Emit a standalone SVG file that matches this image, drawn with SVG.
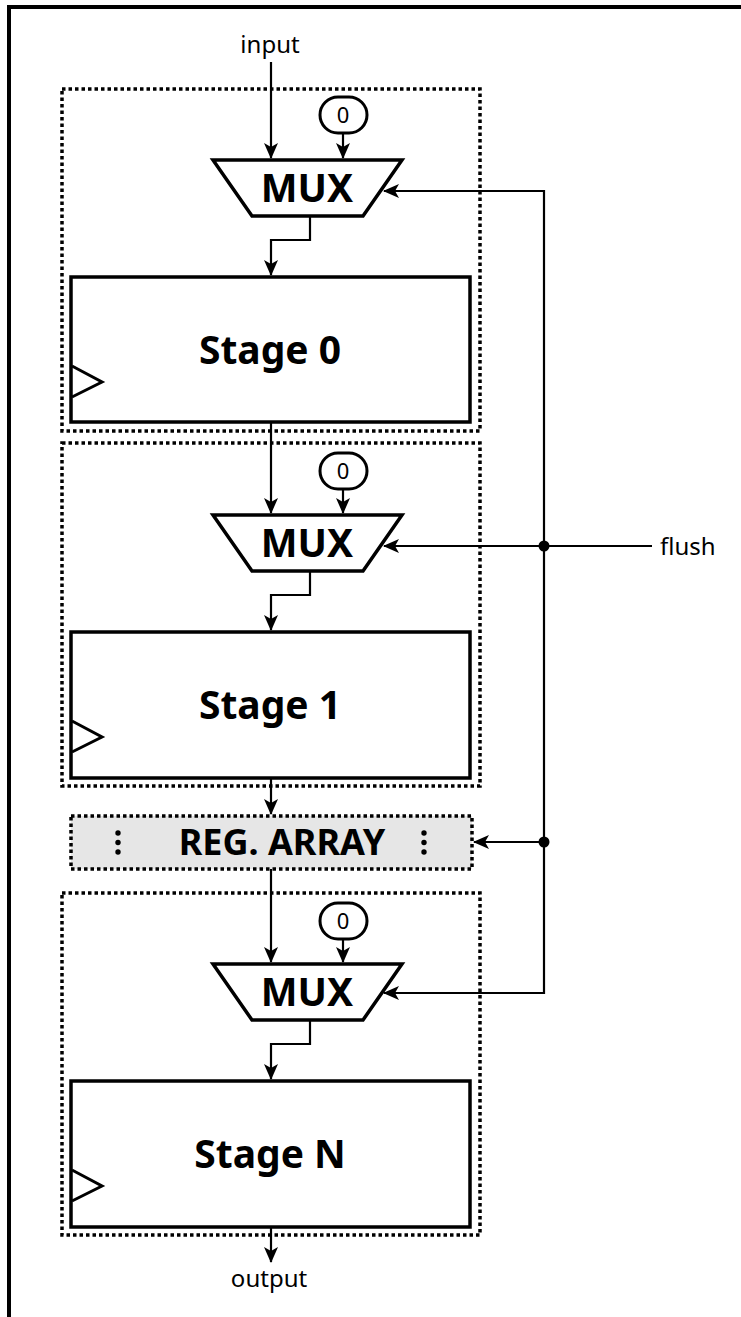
<svg xmlns="http://www.w3.org/2000/svg" width="741" height="1317" viewBox="0 0 741 1317">
<defs>
<marker id="arr" markerWidth="16" markerHeight="14" refX="15" refY="7" orient="auto" markerUnits="userSpaceOnUse">
<path d="M0,0 L16,7 L0,14 L4,7 z" fill="#000"/>
</marker>
<style>
.frame{fill:none;stroke:#000;stroke-width:4}
.cont{fill:none;stroke:#000;stroke-width:3.5;stroke-dasharray:3.5 3}
.stage{fill:#fff;stroke:#000;stroke-width:3.5}
.clk{fill:none;stroke:#000;stroke-width:3}
.mux{fill:#fff;stroke:#000;stroke-width:3.5;stroke-linejoin:miter}
.zero{fill:#fff;stroke:#000;stroke-width:3}
.wire{fill:none;stroke:#000;stroke-width:2.2}
.lbl{font-family:"Noto Sans","Open Sans",sans-serif;font-size:24px;fill:#000}
.big{font-family:"Noto Sans","Open Sans",sans-serif;font-weight:bold;font-size:39px;fill:#000;text-anchor:middle}
.zt{font-family:"Noto Sans","Open Sans",sans-serif;font-size:22px;fill:#000;text-anchor:middle}
.reg{fill:#e6e6e6;stroke:#000;stroke-width:3.5;stroke-dasharray:3.5 3}
</style>
</defs>
<rect class="frame" x="9" y="7" width="760" height="1330"/>

<g id="containers">
<rect class="cont" x="62" y="89" width="418" height="342"/>
<rect class="cont" x="62" y="443" width="418" height="343"/>
<rect class="cont" x="62" y="893" width="418" height="342"/>
</g>

<g id="connectors">
<path class="wire" d="M271,62 V158" marker-end="url(#arr)"/>
<path class="wire" d="M343,133 V158" marker-end="url(#arr)"/>
<path class="wire" d="M310,216 V240 H271 V275" marker-end="url(#arr)"/>
<path class="wire" d="M271,422 V513" marker-end="url(#arr)"/>
<path class="wire" d="M343,489 V513" marker-end="url(#arr)"/>
<path class="wire" d="M310,571 V595 H271 V630" marker-end="url(#arr)"/>
<path class="wire" d="M271,778 V814" marker-end="url(#arr)"/>
<path class="wire" d="M271,869 V962" marker-end="url(#arr)"/>
<path class="wire" d="M343,939 V962" marker-end="url(#arr)"/>
<path class="wire" d="M310,1020 V1044 H271 V1079" marker-end="url(#arr)"/>
<path class="wire" d="M271,1227 V1262" marker-end="url(#arr)"/>
<path class="wire" d="M544,546 V191 H384" marker-end="url(#arr)"/>
<path class="wire" d="M652,546 H384" marker-end="url(#arr)"/>
<path class="wire" d="M544,546 V993 H384" marker-end="url(#arr)"/>
<path class="wire" d="M544,842 H474" marker-end="url(#arr)"/>
<circle cx="544" cy="546" r="5.5" fill="#000"/>
<circle cx="544" cy="842" r="5.5" fill="#000"/>
</g>

<g id="input"><text class="lbl" x="270" y="53" text-anchor="middle">input</text></g>
<g id="flush"><text class="lbl" x="660" y="555">flush</text></g>
<g id="output"><text class="lbl" x="269" y="1287" text-anchor="middle">output</text></g>

<g id="zero0"><rect class="zero" x="320" y="97" width="47" height="36" rx="18"/><text class="zt" x="343" y="123">0</text></g>
<g id="mux0"><polygon class="mux" points="213,160 402,160 363,216 252,216"/><text class="big" x="307" y="202">MUX</text></g>
<g id="stage0"><rect class="stage" x="71" y="277" width="399" height="145"/><polyline class="clk" points="72,366 102,382 72,397"/><text class="big" x="270" y="364">Stage 0</text></g>

<g id="zero1"><rect class="zero" x="320" y="453" width="47" height="36" rx="18"/><text class="zt" x="343" y="479">0</text></g>
<g id="mux1"><polygon class="mux" points="213,515 402,515 363,571 252,571"/><text class="big" x="307" y="557">MUX</text></g>
<g id="stage1"><rect class="stage" x="71" y="632" width="399" height="146"/><polyline class="clk" points="72,721 102,737 72,752"/><text class="big" x="270" y="719">Stage 1</text></g>

<g id="regarray"><rect class="reg" x="71" y="816" width="401" height="53"/>
<circle cx="118" cy="833" r="2.7"/><circle cx="118" cy="842.5" r="2.7"/><circle cx="118" cy="852" r="2.7"/>
<circle cx="424" cy="833" r="2.7"/><circle cx="424" cy="842.5" r="2.7"/><circle cx="424" cy="852" r="2.7"/>
<text class="big" x="282" y="855" style="font-size:36px">REG. ARRAY</text></g>

<g id="zeroN"><rect class="zero" x="320" y="903" width="47" height="36" rx="18"/><text class="zt" x="343" y="929">0</text></g>
<g id="muxN"><polygon class="mux" points="213,964 402,964 363,1020 252,1020"/><text class="big" x="307" y="1006">MUX</text></g>
<g id="stageN"><rect class="stage" x="71" y="1081" width="399" height="146"/><polyline class="clk" points="72,1170 102,1186 72,1201"/><text class="big" x="270" y="1168">Stage N</text></g>
</svg>
